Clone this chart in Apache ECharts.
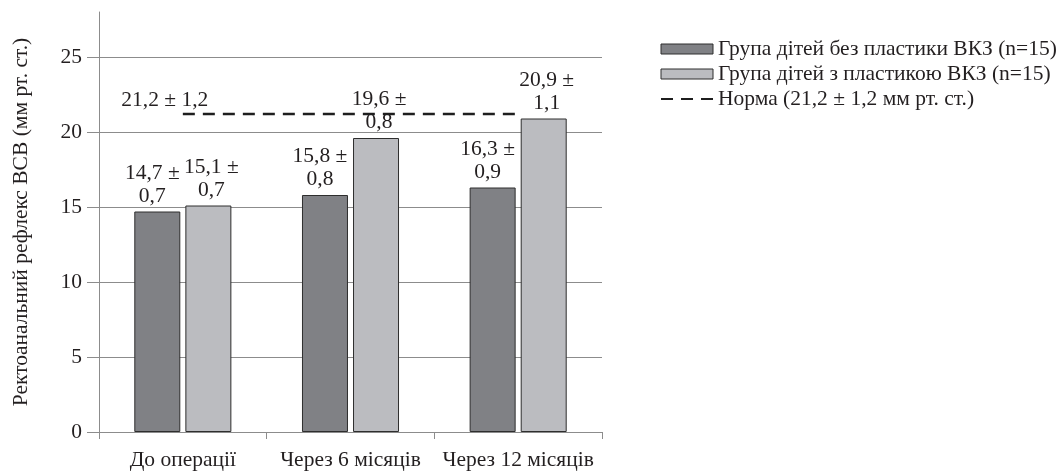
<!DOCTYPE html>
<html>
<head>
<meta charset="utf-8">
<script src="https://cdn.jsdelivr.net/npm/echarts@6/dist/echarts.min.js"></script>
<style>
  html, body { margin: 0; padding: 0; background: #fff; }
  #chart { width: 1059px; height: 471px; }
</style>
</head>
<body>
<div id="chart"></div>
<script>
// Rectoanal reflex threshold (mm Hg) by observation period
const categories = ['До операції', 'Через 6 місяців', 'Через 12 місяців'];
const seriesNames = [
  'Група дітей без пластики ВКЗ (n=15)',
  'Група дітей з пластикою ВКЗ (n=15)',
  'Норма (21,2 ± 1,2 мм рт. ст.)'
];
const noPlastyMean = [14.7, 15.8, 16.3];
const noPlastySd = [0.7, 0.8, 0.9];
const plastyMean = [15.1, 19.6, 20.9];
const plastySd = [0.7, 0.8, 1.1];
const normMean = 21.2;
const normSd = 1.2;
const yTicks = [0, 5, 10, 15, 20, 25];

const FONT = 'Liberation Serif';
const FS = 21.5;
const TEXT = '#231f20';
const GRID = '#8c8c8c';

const fmt = v => v.toFixed(1).replace('.', ',');

function barLabel(sds, dx) {
  return {
    show: true,
    position: 'top',
    distance: 4,
    offset: [dx, 0],
    fontFamily: FONT,
    fontSize: FS,
    lineHeight: 23,
    color: TEXT,
    formatter: p => fmt(p.value) + ' ±\n' + fmt(sds[p.dataIndex])
  };
}

const chart = echarts.init(document.getElementById('chart'));
chart.setOption({
  animation: false,
  textStyle: { fontFamily: FONT, color: TEXT },
  grid: { left: 99, right: 457, top: 12, bottom: 39, outerBoundsMode: 'none' },
  legend: {
    orient: 'vertical',
    left: 655,
    top: 33,
    itemWidth: 52,
    itemHeight: 10,
    itemGap: 3,
    textStyle: { fontFamily: FONT, fontSize: FS, color: TEXT },
    data: [
      { name: seriesNames[0], icon: 'rect', itemStyle: { borderWidth: 1 } },
      { name: seriesNames[1], icon: 'rect', itemStyle: { borderWidth: 1 } },
      { name: seriesNames[2], itemStyle: { opacity: 0 } }
    ]
  },
  xAxis: {
    type: 'category',
    data: categories,
    axisLine: { lineStyle: { color: GRID, width: 1 } },
    axisTick: { show: true, length: 7, lineStyle: { color: GRID } },
    axisLabel: { interval: 0, fontFamily: FONT, fontSize: FS, color: TEXT, margin: 17 }
  },
  yAxis: {
    type: 'value',
    min: yTicks[0],
    max: 28,
    interval: 5,
    name: 'Ректоанальний рефлекс ВСВ (мм рт. ст.)',
    nameLocation: 'middle',
    nameGap: 67,
    nameTextStyle: { fontFamily: FONT, fontSize: FS, color: TEXT },
    axisLine: { show: true, lineStyle: { color: GRID, width: 1 } },
    axisTick: { show: true, length: 12, lineStyle: { color: GRID } },
    axisLabel: {
      fontFamily: FONT, fontSize: FS, color: TEXT, margin: 17,
      showMaxLabel: false,
      formatter: v => (yTicks.indexOf(v) >= 0 ? String(v) : '')
    },
    splitLine: { show: true, showMaxLine: false, lineStyle: { color: GRID, width: 1 } }
  },
  series: [
    {
      name: seriesNames[0],
      type: 'bar',
      data: noPlastyMean,
      barWidth: 46,
      barGap: '11%',
      itemStyle: { color: '#808185', borderColor: '#2e2e2e', borderWidth: 1 },
      label: barLabel(noPlastySd, -5)
    },
    {
      name: seriesNames[1],
      type: 'bar',
      data: plastyMean,
      barWidth: 46,
      barGap: '11%',
      itemStyle: { color: '#bbbcc0', borderColor: '#2e2e2e', borderWidth: 1 },
      label: barLabel(plastySd, 3)
    },
    {
      name: seriesNames[2],
      type: 'line',
      symbol: 'none',
      z: 5,
      lineStyle: { color: '#1e1e1e', width: 2.5, type: [12, 8] },
      itemStyle: { color: '#1e1e1e' },
      data: categories.map(() => normMean)
    },
    {
      // caption of the norm line, anchored at its first point
      type: 'scatter',
      symbolSize: 0,
      silent: true,
      z: 6,
      itemStyle: { opacity: 1 },
      data: [[0, normMean]],
      label: {
        show: true,
        position: 'top',
        offset: [-18, 0],
        distance: 3,
        fontFamily: FONT,
        fontSize: FS,
        color: TEXT,
        formatter: fmt(normMean) + ' ± ' + fmt(normSd)
      }
    }
  ]
});
</script>
</body>
</html>
